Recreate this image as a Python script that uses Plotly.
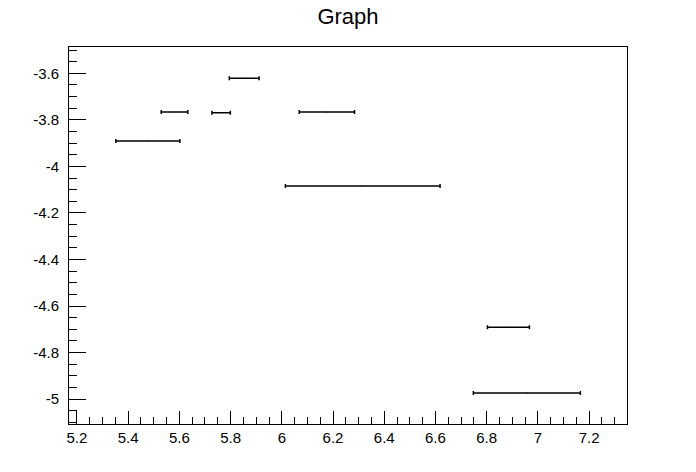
import plotly.graph_objects as go

x_center = [5.477, 5.581, 5.763, 5.853, 6.176, 6.316, 6.885, 6.957]
x_err = [0.125, 0.052, 0.036, 0.058, 0.108, 0.302, 0.082, 0.209]
y_val = [-3.891, -3.766, -3.770, -3.621, -3.766, -4.084, -4.691, -4.974]

y_ticks = [-3.6, -3.8, -4.0, -4.2, -4.4, -4.6, -4.8, -5.0]
y_labels = ["-3.6", "-3.8", "-4", "-4.2", "-4.4", "-4.6", "-4.8", "-5"]

fig = go.Figure(go.Scatter(
    x=x_center, y=y_val, mode="markers",
    marker=dict(size=1, color="black"),
    error_x=dict(type="data", array=x_err, color="black", thickness=1.5, width=2),
    showlegend=False,
))

font = "Liberation Sans, Arial, Helvetica, sans-serif"
fig.update_layout(
    width=696, height=472,
    margin=dict(l=69, r=69, t=47, b=48),
    paper_bgcolor="white", plot_bgcolor="white",
    title=dict(text="Graph", x=0.5, xanchor="center", y=0.966, yanchor="middle",
               font=dict(family=font, size=22, color="black")),
    font=dict(family=font, size=15, color="black"),
)
fig.update_xaxes(
    range=[5.169, 7.348], showgrid=False, zeroline=False,
    showline=True, linecolor="black", linewidth=1, mirror=True,
    ticks="inside", ticklen=13, tickcolor="black", dtick=0.2, tick0=5.2,
    minor=dict(dtick=0.05, ticks="inside", ticklen=7, tickcolor="black", showgrid=False),
    ticklabelstandoff=0,
)
fig.update_yaxes(
    range=[-5.107, -3.487], showgrid=False, zeroline=False,
    showline=True, linecolor="black", linewidth=1, mirror=True,
    ticks="inside", ticklen=17, tickcolor="black",
    tickvals=y_ticks, ticktext=y_labels,
    minor=dict(dtick=0.05, tick0=0, ticks="inside", ticklen=8, tickcolor="black", showgrid=False),
    ticklabelstandoff=6,
)

fig.write_html("out.html", config={"displayModeBar": False},
               post_script="document.body.style.margin='0';")
